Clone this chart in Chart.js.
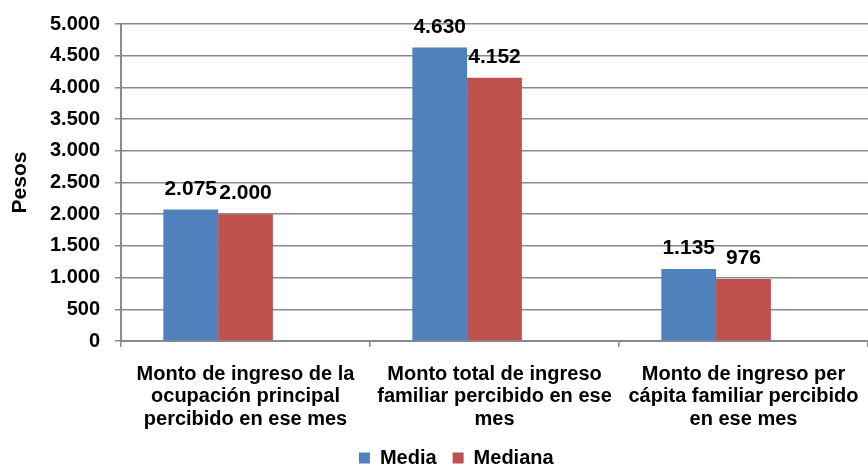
<html>
<head>
<script src="https://cdn.jsdelivr.net/npm/chart.js"></script>
<style>
  body { margin: 0; background: #fff; }
  #wrap { width: 868px; height: 466px; }
</style>
</head>
<body>
<div id="wrap"><canvas id="myChart" width="868" height="466"></canvas></div>
<script>
// data
const categories = [
  ['Monto de ingreso de la', 'ocupación principal', 'percibido en ese mes'],
  ['Monto total de ingreso', 'familiar percibido en ese', 'mes'],
  ['Monto de ingreso per', 'cápita familiar percibido', 'en ese mes']
];
const media = [2075, 4630, 1135];
const mediana = [2000, 4152, 976];
const yTicks = [0, 500, 1000, 1500, 2000, 2500, 3000, 3500, 4000, 4500, 5000];

const gridColor = '#8a8a8a';
const font = 'Liberation Sans, Arial, sans-serif';

function fmt(v) {
  return String(v).replace(/\B(?=(\d{3})+(?!\d))/g, '.');
}

// draws the value over each bar
const valueLabels = {
  id: 'valueLabels',
  afterDatasetsDraw(chart) {
    const ctx = chart.ctx;
    ctx.save();
    ctx.font = 'bold 21px ' + font;
    ctx.fillStyle = '#000';
    ctx.textAlign = 'center';
    ctx.textBaseline = 'bottom';
    chart.data.datasets.forEach((ds, i) => {
      if (!ds.showValues) return;
      chart.getDatasetMeta(i).data.forEach((bar, j) => {
        ctx.fillText(fmt(ds.data[j]), bar.x, bar.y - 10);
      });
    });
    ctx.restore();
  }
};

const data = {
  labels: categories,
  datasets: [
    { label: 'Media', data: media, backgroundColor: '#4F81BD', showValues: true },
    { label: 'Mediana', data: mediana, backgroundColor: '#C0504D', showValues: true },
    // empty third slot, the bars sit left of center in the original
    { label: '', data: [null, null, null], backgroundColor: 'rgba(0,0,0,0)' }
  ]
};

const config = {
  type: 'bar',
  data: data,
  options: {
    responsive: false,
    animation: false,
    categoryPercentage: 0.66,
    barPercentage: 1,
    layout: { padding: { top: 24, right: -2, bottom: -12, left: 0 } },
    plugins: {
      tooltip: { enabled: false },
      legend: {
        position: 'bottom',
        labels: {
          color: '#000',
          font: { family: font, size: 20, weight: 'bold' },
          boxWidth: 11,
          boxHeight: 11,
          padding: 16,
          generateLabels(chart) {
            const items = Chart.defaults.plugins.legend.labels.generateLabels(chart);
            // blank item on the left pushes the legend a bit right, as in the original
            items.unshift({ text: ' ', fillStyle: 'rgba(0,0,0,0)', strokeStyle: 'rgba(0,0,0,0)', lineWidth: 0, datasetIndex: -1 });
            return items;
          },
          filter: (item) => item.text !== ''
        }
      }
    },
    scales: {
      x: {
        offset: true,
        grid: { display: true, offset: true, drawOnChartArea: false, drawTicks: true, tickLength: 6, color: gridColor, lineWidth: 1.5 },
        border: { color: gridColor, width: 2 },
        ticks: {
          color: '#000',
          padding: 16,
          maxRotation: 0,
          autoSkip: false,
          font: { family: font, size: 20, weight: 'bold', lineHeight: 1.12 }
        },
        afterFit(scale) {
          scale.height = 91;
          scale.paddingLeft = 0;
          scale.paddingRight = 0;
        }
      },
      y: {
        min: 0,
        max: 5000,
        afterBuildTicks(scale) { scale.ticks = yTicks.map(v => ({ value: v })); },
        grid: { color: gridColor, lineWidth: 1.5, tickLength: 6 },
        border: { color: gridColor, width: 2 },
        ticks: {
          color: '#000',
          padding: 15,
          font: { family: font, size: 20, weight: 'bold' },
          callback: (v) => fmt(v)
        },
        title: {
          display: true,
          text: 'Pesos',
          color: '#000',
          padding: { top: 8, bottom: 0 },
          font: { family: font, size: 21, weight: 'bold' }
        },
        afterFit(scale) {
          scale.width = 121;
          scale.paddingTop = 0;
          scale.paddingBottom = 0;
        }
      }
    }
  },
  plugins: [valueLabels]
};

var myChart = new Chart(document.getElementById('myChart'), config);
</script>
</body>
</html>
